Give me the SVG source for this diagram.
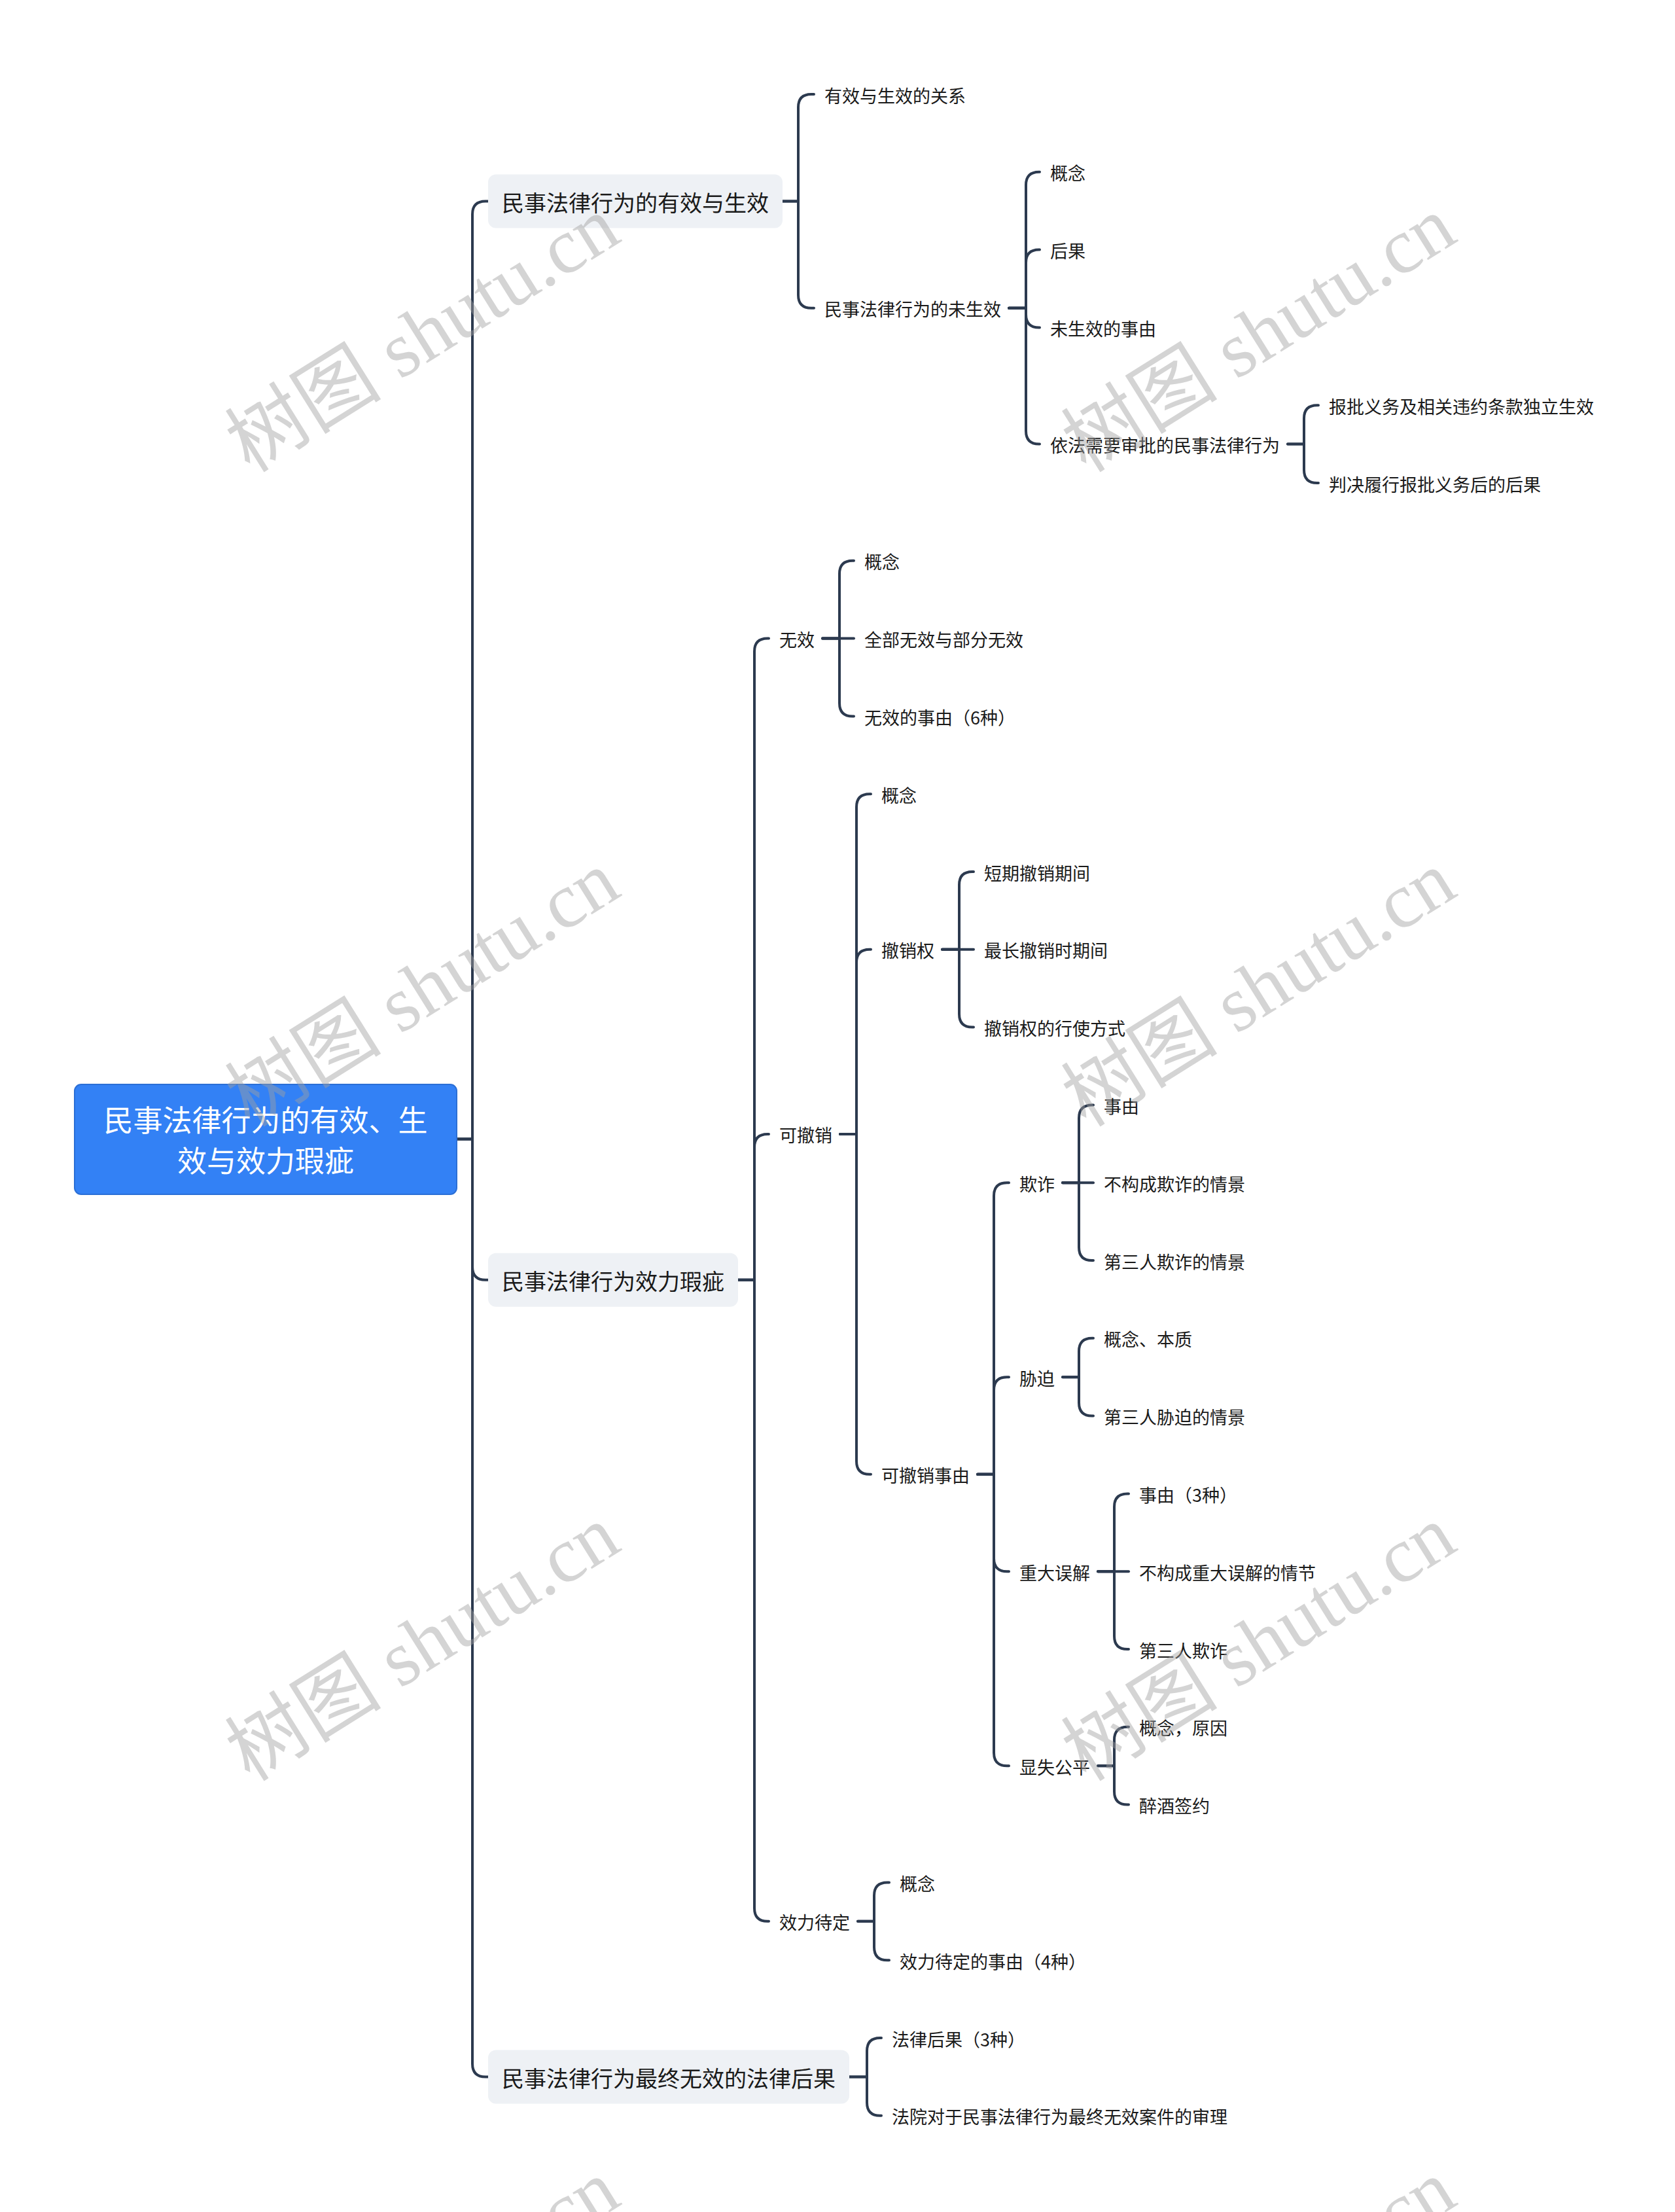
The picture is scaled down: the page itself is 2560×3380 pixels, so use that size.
<svg xmlns="http://www.w3.org/2000/svg" width="2560" height="3380" viewBox="0 0 2560 3380">
<style>
text{font-family:"Noto Sans CJK SC","Noto Sans",sans-serif;}
.leaf{font-size:27px;fill:#1a1a1a;dominant-baseline:central;}
.l1{font-size:34px;fill:#1a1a1a;dominant-baseline:central;}
.box{fill:#eef1f5;}
.root{fill:#3381f5;stroke:#2b6fd6;stroke-width:2;}
.rt{font-size:45px;fill:#ffffff;dominant-baseline:central;text-anchor:middle;}
.c path{fill:none;stroke:#2c3a4f;stroke-width:4;stroke-linecap:round;stroke-linejoin:round;}
.wm{font-family:"Liberation Serif","Noto Sans CJK SC",serif;font-size:120px;fill:#a0a0a0;fill-opacity:0.45;text-anchor:middle;dominant-baseline:central;}
</style>
<rect width="2560" height="3380" fill="#ffffff"/>
<g class="c" id="connectors">
<path d="M698 1740.4 H722 V327.4 Q722 307.4 742 307.4 H746"/>
<path d="M698 1740.4 H722 V1935.7 Q722 1955.7 742 1955.7 H746"/>
<path d="M698 1740.4 H722 V3153.4 Q722 3173.4 742 3173.4 H746"/>
<path d="M1196 307.4 H1220 V164 Q1220 144 1240 144 H1244"/>
<path d="M1196 307.4 H1220 V450.7 Q1220 470.7 1240 470.7 H1244"/>
<path d="M1542 470.7 H1568 V282.8 Q1568 262.8 1588 262.8 H1589"/>
<path d="M1542 470.7 H1568 V401.6 Q1568 381.6 1588 381.6 H1589"/>
<path d="M1542 470.7 H1568 V480.4 Q1568 500.4 1588 500.4 H1589"/>
<path d="M1542 470.7 H1568 V658.6 Q1568 678.6 1588 678.6 H1589"/>
<path d="M1968 678.6 H1993 V639.2 Q1993 619.2 2013 619.2 H2015"/>
<path d="M1968 678.6 H1993 V718 Q1993 738 2013 738 H2015"/>
<path d="M1128 1955.7 H1153 V995.6 Q1153 975.6 1173 975.6 H1175"/>
<path d="M1128 1955.7 H1153 V1752.95 Q1153 1732.95 1173 1732.95 H1175"/>
<path d="M1128 1955.7 H1153 V2915.8 Q1153 2935.8 1173 2935.8 H1175"/>
<path d="M1257 975.6 H1283 V876.8 Q1283 856.8 1303 856.8 H1305"/>
<path d="M1257 975.6 H1305"/>
<path d="M1257 975.6 H1283 V1074.4 Q1283 1094.4 1303 1094.4 H1305"/>
<path d="M1284 1732.95 H1309 V1233.2 Q1309 1213.2 1329 1213.2 H1331"/>
<path d="M1284 1732.95 H1309 V1470.8 Q1309 1450.8 1329 1450.8 H1331"/>
<path d="M1284 1732.95 H1309 V2232.7 Q1309 2252.7 1329 2252.7 H1331"/>
<path d="M1440 1450.8 H1466 V1352 Q1466 1332 1486 1332 H1488"/>
<path d="M1440 1450.8 H1488"/>
<path d="M1440 1450.8 H1466 V1549.6 Q1466 1569.6 1486 1569.6 H1488"/>
<path d="M1494 2252.7 H1519 V1827.2 Q1519 1807.2 1539 1807.2 H1542"/>
<path d="M1494 2252.7 H1519 V2124.2 Q1519 2104.2 1539 2104.2 H1542"/>
<path d="M1494 2252.7 H1519 V2381.2 Q1519 2401.2 1539 2401.2 H1542"/>
<path d="M1494 2252.7 H1519 V2678.2 Q1519 2698.2 1539 2698.2 H1542"/>
<path d="M1624 1807.2 H1649 V1708.4 Q1649 1688.4 1669 1688.4 H1671"/>
<path d="M1624 1807.2 H1671"/>
<path d="M1624 1807.2 H1649 V1906 Q1649 1926 1669 1926 H1671"/>
<path d="M1624 2104.2 H1649 V2064.8 Q1649 2044.8 1669 2044.8 H1671"/>
<path d="M1624 2104.2 H1649 V2143.6 Q1649 2163.6 1669 2163.6 H1671"/>
<path d="M1678 2401.2 H1703 V2302.4 Q1703 2282.4 1723 2282.4 H1725"/>
<path d="M1678 2401.2 H1725"/>
<path d="M1678 2401.2 H1703 V2500 Q1703 2520 1723 2520 H1725"/>
<path d="M1678 2698.2 H1703 V2658.8 Q1703 2638.8 1723 2638.8 H1725"/>
<path d="M1678 2698.2 H1703 V2737.6 Q1703 2757.6 1723 2757.6 H1725"/>
<path d="M1311 2935.8 H1336 V2896.4 Q1336 2876.4 1356 2876.4 H1359"/>
<path d="M1311 2935.8 H1336 V2975.2 Q1336 2995.2 1356 2995.2 H1359"/>
<path d="M1298 3173.4 H1325 V3134 Q1325 3114 1345 3114 H1347"/>
<path d="M1298 3173.4 H1325 V3212.8 Q1325 3232.8 1345 3232.8 H1347"/>
</g>
<g id="root"><rect class="root" x="114" y="1657" width="584" height="168" rx="10"/><text class="rt" x="406" y="1709">民事法律行为的有效、生</text><text class="rt" x="406" y="1771">效与效力瑕疵</text></g>
<g id="n-a"><rect class="box" x="746" y="266.4" width="450" height="82" rx="12"/><text class="l1" x="767" y="308.4">民事法律行为的有效与生效</text></g>
<g id="n-b"><rect class="box" x="746" y="1914.7" width="382" height="82" rx="12"/><text class="l1" x="767" y="1956.7">民事法律行为效力瑕疵</text></g>
<g id="n-c"><rect class="box" x="746" y="3132.4" width="552" height="82" rx="12"/><text class="l1" x="767" y="3174.4">民事法律行为最终无效的法律后果</text></g>
<g id="n-a1"><text class="leaf" x="1260" y="145">有效与生效的关系</text></g>
<g id="n-a2"><text class="leaf" x="1260" y="471.7">民事法律行为的未生效</text></g>
<g id="n-a21"><text class="leaf" x="1605" y="263.8">概念</text></g>
<g id="n-a22"><text class="leaf" x="1605" y="382.6">后果</text></g>
<g id="n-a23"><text class="leaf" x="1605" y="501.4">未生效的事由</text></g>
<g id="n-a24"><text class="leaf" x="1605" y="679.6">依法需要审批的民事法律行为</text></g>
<g id="n-a241"><text class="leaf" x="2031" y="620.2">报批义务及相关违约条款独立生效</text></g>
<g id="n-a242"><text class="leaf" x="2031" y="739">判决履行报批义务后的后果</text></g>
<g id="n-b1"><text class="leaf" x="1191" y="976.6">无效</text></g>
<g id="n-b11"><text class="leaf" x="1321" y="857.8">概念</text></g>
<g id="n-b12"><text class="leaf" x="1321" y="976.6">全部无效与部分无效</text></g>
<g id="n-b13"><text class="leaf" x="1321" y="1095.4">无效的事由（6种）</text></g>
<g id="n-b2"><text class="leaf" x="1191" y="1733.95">可撤销</text></g>
<g id="n-b21"><text class="leaf" x="1347" y="1214.2">概念</text></g>
<g id="n-b22"><text class="leaf" x="1347" y="1451.8">撤销权</text></g>
<g id="n-b221"><text class="leaf" x="1504" y="1333">短期撤销期间</text></g>
<g id="n-b222"><text class="leaf" x="1504" y="1451.8">最长撤销时期间</text></g>
<g id="n-b223"><text class="leaf" x="1504" y="1570.6">撤销权的行使方式</text></g>
<g id="n-b23"><text class="leaf" x="1347" y="2253.7">可撤销事由</text></g>
<g id="n-b231"><text class="leaf" x="1558" y="1808.2">欺诈</text></g>
<g id="n-b2311"><text class="leaf" x="1687" y="1689.4">事由</text></g>
<g id="n-b2312"><text class="leaf" x="1687" y="1808.2">不构成欺诈的情景</text></g>
<g id="n-b2313"><text class="leaf" x="1687" y="1927">第三人欺诈的情景</text></g>
<g id="n-b232"><text class="leaf" x="1558" y="2105.2">胁迫</text></g>
<g id="n-b2321"><text class="leaf" x="1687" y="2045.8">概念、本质</text></g>
<g id="n-b2322"><text class="leaf" x="1687" y="2164.6">第三人胁迫的情景</text></g>
<g id="n-b233"><text class="leaf" x="1558" y="2402.2">重大误解</text></g>
<g id="n-b2331"><text class="leaf" x="1741" y="2283.4">事由（3种）</text></g>
<g id="n-b2332"><text class="leaf" x="1741" y="2402.2">不构成重大误解的情节</text></g>
<g id="n-b2333"><text class="leaf" x="1741" y="2521">第三人欺诈</text></g>
<g id="n-b234"><text class="leaf" x="1558" y="2699.2">显失公平</text></g>
<g id="n-b2341"><text class="leaf" x="1741" y="2639.8">概念，原因</text></g>
<g id="n-b2342"><text class="leaf" x="1741" y="2758.6">醉酒签约</text></g>
<g id="n-b3"><text class="leaf" x="1191" y="2936.8">效力待定</text></g>
<g id="n-b31"><text class="leaf" x="1375" y="2877.4">概念</text></g>
<g id="n-b32"><text class="leaf" x="1375" y="2996.2">效力待定的事由（4种）</text></g>
<g id="n-c1"><text class="leaf" x="1363" y="3115">法律后果（3种）</text></g>
<g id="n-c2"><text class="leaf" x="1363" y="3233.8">法院对于民事法律行为最终无效案件的审理</text></g>
<g id="watermark">
<text class="wm" transform="translate(646 511) rotate(-32)">树图 shutu.cn</text>
<text class="wm" transform="translate(1924 511) rotate(-32)">树图 shutu.cn</text>
<text class="wm" transform="translate(646 1511) rotate(-32)">树图 shutu.cn</text>
<text class="wm" transform="translate(1924 1511) rotate(-32)">树图 shutu.cn</text>
<text class="wm" transform="translate(646 2511) rotate(-32)">树图 shutu.cn</text>
<text class="wm" transform="translate(1924 2511) rotate(-32)">树图 shutu.cn</text>
<text class="wm" transform="translate(646 3511) rotate(-32)">树图 shutu.cn</text>
<text class="wm" transform="translate(1924 3511) rotate(-32)">树图 shutu.cn</text>
</g>
</svg>
